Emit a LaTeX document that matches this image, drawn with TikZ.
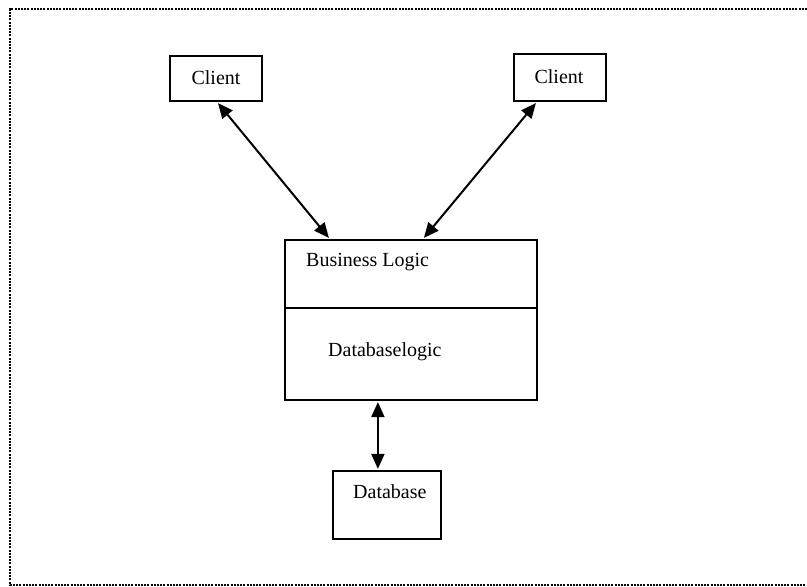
\documentclass[tikz,border=0pt]{standalone}
\usepackage{fontspec}
\setmainfont{Liberation Serif}
\usetikzlibrary{arrows.meta,calc}
\begin{document}
\begin{tikzpicture}[x=1pt,y=-1pt,
  box/.style={draw,line width=2.2pt,inner sep=0pt},
  label/.style={font=\fontsize{20}{24}\selectfont,inner sep=0pt},
  link/.style={line width=2pt,{Triangle[length=15pt,width=13pt]}-{Triangle[length=15pt,width=13pt]}},
  frame/.style={line width=2pt,dash pattern=on 2pt off 1.2pt}]
\useasboundingbox (0,0) rectangle (807,587);
% dotted frame, open on the right
\draw[frame] (807,9) -- (10,9) -- (10,585) -- (807,585);

% clients
\node[box,minimum width=92pt,minimum height=45pt] (cl) at (216,78.5) {};
\node[label] (cltxt) at (216,78) {Client};
\node[box,minimum width=92pt,minimum height=47pt] (cr) at (560,77.5) {};
\node[label] (crtxt) at (559,77) {Client};

% server with two layers
\node[box,minimum width=252pt,minimum height=160pt] (mid) at (411,320) {};
\draw[line width=2.2pt] ($(mid.north west)+(0,69)$) coordinate (dl) -- ($(mid.north east)+(0,69)$) coordinate (dr);
\node[label,anchor=west] (bl) at (306,262) {Business Logic};
\node[label,anchor=west] (dbl) at (328,352) {Databaselogic};

% database
\node[box,minimum width=108pt,minimum height=68pt] (db) at (387,505) {};
\node[label,anchor=west] (dbtxt) at (353,492) {Database};

% connectors
\draw[link] ($(cl.south)+(2,1)$) -- ($(mid.north west)+(45,-1)$);
\draw[link] ($(cr.south west)+(23,1)$) -- ($(mid.north west)+(140,-1)$);
\draw[link] ($(mid.south west)+(94,1)$) -- ($(db.north west)+(46,-1)$);
\end{tikzpicture}
\end{document}
